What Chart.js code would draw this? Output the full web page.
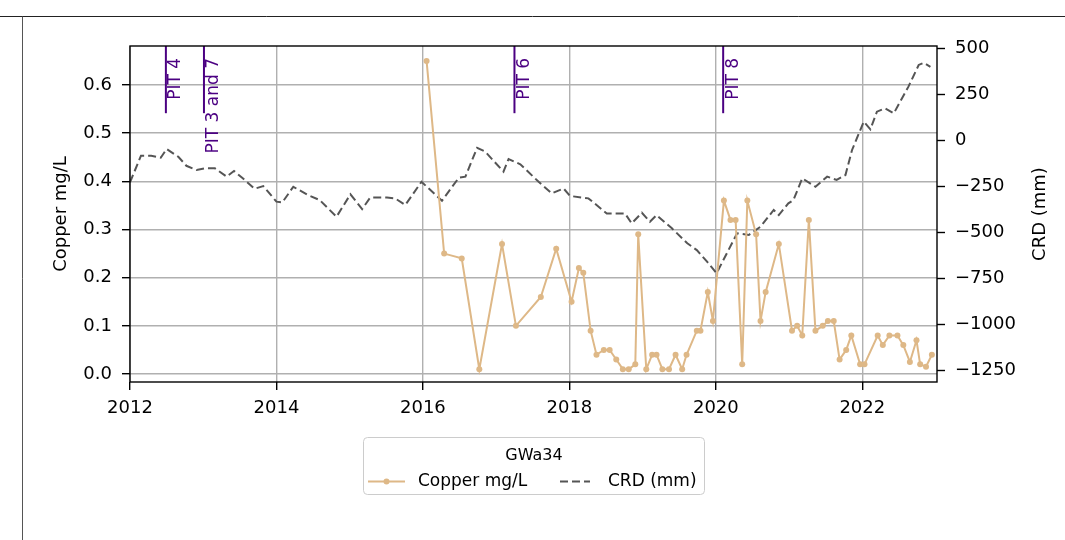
<!DOCTYPE html>
<html>
<head>
<meta charset="utf-8">
<script src="https://cdn.jsdelivr.net/npm/chart.js@4.4.1/dist/chart.umd.min.js"></script>
<style>
  html, body { margin: 0; padding: 0; background: #fff; }
  canvas { display: block; }
</style>
</head>
<body>
<canvas id="chart" width="1065" height="540"></canvas>
<script>
// sample dates as decimal years
const copperDates = [
  2016.05, 2016.29, 2016.53, 2016.77, 2017.08, 2017.27, 2017.61, 2017.82,
  2018.03, 2018.13, 2018.19, 2018.29, 2018.37, 2018.47, 2018.55, 2018.64,
  2018.73, 2018.81, 2018.90, 2018.94, 2019.05, 2019.13, 2019.19, 2019.27,
  2019.36, 2019.45, 2019.54, 2019.60, 2019.74, 2019.79, 2019.89, 2019.96,
  2020.11, 2020.20, 2020.27, 2020.36, 2020.43, 2020.55, 2020.61, 2020.68,
  2020.86, 2021.04, 2021.11, 2021.18, 2021.27, 2021.36, 2021.46, 2021.53,
  2021.61, 2021.69, 2021.78, 2021.85, 2021.97, 2022.03, 2022.21, 2022.28,
  2022.37, 2022.48, 2022.56, 2022.65, 2022.74, 2022.79, 2022.87, 2022.95
];
const copperValues = [
  0.65, 0.25, 0.24, 0.01, 0.27, 0.10, 0.16, 0.26,
  0.15, 0.22, 0.21, 0.09, 0.04, 0.05, 0.05, 0.03,
  0.01, 0.01, 0.02, 0.29, 0.01, 0.04, 0.04, 0.01,
  0.01, 0.04, 0.01, 0.04, 0.09, 0.09, 0.17, 0.11,
  0.36, 0.32, 0.32, 0.02, 0.36, 0.29, 0.11, 0.17,
  0.27, 0.09, 0.10, 0.08, 0.32, 0.09, 0.10, 0.11,
  0.11, 0.03, 0.05, 0.08, 0.02, 0.02, 0.08, 0.06,
  0.08, 0.08, 0.06, 0.025, 0.07, 0.02, 0.015, 0.04
];

// cumulative rainfall deviation
const crdDates = [
  2012.00, 2012.15, 2012.29, 2012.42, 2012.50, 2012.66, 2012.77, 2012.91,
  2013.02, 2013.16, 2013.32, 2013.42, 2013.54, 2013.70, 2013.82, 2014.00,
  2014.08, 2014.23, 2014.43, 2014.59, 2014.82, 2015.01, 2015.17, 2015.28,
  2015.51, 2015.62, 2015.76, 2015.98, 2016.26, 2016.49, 2016.58, 2016.74,
  2016.85, 2017.10, 2017.17, 2017.33, 2017.58, 2017.76, 2017.92, 2018.01,
  2018.26, 2018.51, 2018.76, 2018.85, 2018.99, 2019.10, 2019.19, 2019.40,
  2019.61, 2019.74, 2019.88, 2020.01, 2020.29, 2020.45, 2020.61, 2020.79,
  2020.86, 2020.99, 2021.06, 2021.18, 2021.36, 2021.52, 2021.65, 2021.77,
  2021.86, 2022.02, 2022.11, 2022.20, 2022.31, 2022.43, 2022.63, 2022.77,
  2022.84, 2022.93
];
const crdValues = [
  -230, -85, -85, -96, -49, -91, -140, -163,
  -154, -154, -199, -168, -208, -265, -250, -335,
  -339, -254, -299, -326, -417, -295, -375, -313,
  -313, -317, -353, -227, -330, -205, -199, -42,
  -63, -172, -103, -132, -227, -290, -263, -304,
  -317, -399, -399, -453, -395, -444, -408, -480,
  -561, -598, -661, -724, -507, -516, -471, -380,
  -408, -344, -326, -208, -254, -199, -217, -190,
  -54, 100, 58, 154, 172, 145, 290, 408,
  420, 398
];

const pitLabels = ['PIT 4', 'PIT 3 and 7', 'PIT 6', 'PIT 8'];
const pitDates = [2012.49, 2013.01, 2017.25, 2020.10];

const legendTitle = 'GWa34';
const copperLabel = 'Copper mg/L';
const crdLabel = 'CRD (mm)';

const FONT = '"DejaVu Sans", "Liberation Sans", sans-serif';
const COPPER = '#deb887';
const CRD = '#555555';
const PIT = '#4b0082';
const GRID = '#b0b0b0';

const extras = {
  id: 'extras',
  afterDraw(chart) {
    const ctx = chart.ctx;
    const a = chart.chartArea;
    const x = chart.scales.x;
    ctx.save();

    // page frame lines
    ctx.lineWidth = 1;
    ctx.strokeStyle = '#222';
    ctx.beginPath(); ctx.moveTo(0, 16.5); ctx.lineTo(1065, 16.5); ctx.stroke();
    ctx.strokeStyle = '#555';
    ctx.beginPath(); ctx.moveTo(22.5, 16.5); ctx.lineTo(22.5, 540); ctx.stroke();

    // pit markers
    pitDates.forEach((d, i) => {
      const px = x.getPixelForValue(d);
      ctx.strokeStyle = PIT;
      ctx.lineWidth = 2;
      ctx.beginPath();
      ctx.moveTo(px, a.top);
      ctx.lineTo(px, a.top + (a.bottom - a.top) * 0.2);
      ctx.stroke();
      ctx.save();
      ctx.translate(px + 1.5, a.top + 12);
      ctx.rotate(-Math.PI / 2);
      ctx.fillStyle = PIT;
      ctx.font = '17px ' + FONT;
      ctx.textAlign = 'right';
      ctx.textBaseline = 'top';
      ctx.fillText(pitLabels[i], 0, 0);
      ctx.restore();
    });

    // axes box
    ctx.strokeStyle = '#000';
    ctx.lineWidth = 1.4;
    ctx.strokeRect(a.left, a.top, a.right - a.left, a.bottom - a.top);

    // right axis title, reading upward like the left one
    ctx.save();
    ctx.translate(1040, (a.top + a.bottom) / 2);
    ctx.rotate(-Math.PI / 2);
    ctx.fillStyle = '#000';
    ctx.font = '18px ' + FONT;
    ctx.textAlign = 'center';
    ctx.textBaseline = 'middle';
    ctx.fillText(crdLabel, 0, 0);
    ctx.restore();

    // legend
    const lx = 363.5, ly = 437.5, lw = 341, lh = 57;
    ctx.fillStyle = 'rgba(255,255,255,0.8)';
    ctx.strokeStyle = '#cccccc';
    ctx.lineWidth = 1;
    ctx.beginPath();
    ctx.roundRect(lx, ly, lw, lh, 4);
    ctx.fill();
    ctx.stroke();

    ctx.fillStyle = '#000';
    ctx.textBaseline = 'middle';
    ctx.textAlign = 'center';
    ctx.font = '16px ' + FONT;
    ctx.fillText(legendTitle, 534, 456);

    const ey = 481.5;
    ctx.strokeStyle = COPPER;
    ctx.lineWidth = 2;
    ctx.beginPath(); ctx.moveTo(368, ey); ctx.lineTo(405, ey); ctx.stroke();
    ctx.fillStyle = COPPER;
    ctx.beginPath(); ctx.arc(386.5, ey, 3, 0, Math.PI * 2); ctx.fill();

    ctx.strokeStyle = CRD;
    ctx.setLineDash([8, 4]);
    ctx.beginPath(); ctx.moveTo(560, ey); ctx.lineTo(590, ey); ctx.stroke();
    ctx.setLineDash([]);

    ctx.fillStyle = '#000';
    ctx.textAlign = 'left';
    ctx.font = '17px ' + FONT;
    ctx.fillText(copperLabel, 418, ey);
    ctx.fillText(crdLabel, 608, ey);

    ctx.restore();
  }
};

new Chart(document.getElementById('chart'), {
  type: 'line',
  data: {
    datasets: [
      {
        label: copperLabel,
        data: copperDates.map((d, i) => ({ x: d, y: copperValues[i] })),
        yAxisID: 'y',
        borderColor: COPPER,
        backgroundColor: COPPER,
        borderWidth: 2,
        pointRadius: 3,
        pointBorderWidth: 0,
        pointBackgroundColor: COPPER,
        tension: 0,
        order: 0
      },
      {
        label: crdLabel,
        data: crdDates.map((d, i) => ({ x: d, y: crdValues[i] })),
        yAxisID: 'y1',
        borderColor: CRD,
        borderWidth: 2,
        borderDash: [8, 4],
        pointRadius: 0,
        tension: 0,
        order: 1
      }
    ]
  },
  options: {
    responsive: false,
    devicePixelRatio: 1,
    animation: false,
    layout: { padding: { left: 51, right: 14, top: 46, bottom: 0 } },
    plugins: {
      legend: { display: false },
      tooltip: { enabled: false }
    },
    scales: {
      x: {
        type: 'linear',
        min: 2012,
        max: 2023.02,
        afterFit(s) { s.height = 158; },
        border: { display: false },
        grid: { color: GRID, lineWidth: 1.4, tickColor: '#000', tickLength: 8, tickWidth: 1.4 },
        ticks: {
          stepSize: 2,
          includeBounds: false,
          padding: 8,
          color: '#000',
          font: { family: FONT, size: 18 },
          callback: v => String(Math.round(v))
        }
      },
      y: {
        position: 'left',
        min: -0.0166,
        max: 0.681,
        afterFit(s) { s.width = 79; },
        border: { display: false },
        grid: { color: GRID, lineWidth: 1.4, tickColor: '#000', tickLength: 8, tickWidth: 1.4 },
        title: {
          display: true,
          text: copperLabel,
          color: '#000',
          padding: 0,
          font: { family: FONT, size: 18 }
        },
        ticks: {
          stepSize: 0.1,
          includeBounds: false,
          padding: 10,
          color: '#000',
          font: { family: FONT, size: 18 },
          callback: v => v.toFixed(1)
        }
      },
      y1: {
        position: 'right',
        min: -1315,
        max: 511,
        afterFit(s) { s.width = 114; },
        border: { display: false },
        grid: { drawOnChartArea: false, tickColor: '#000', tickLength: 8, tickWidth: 1.4 },
        ticks: {
          stepSize: 250,
          includeBounds: false,
          padding: 10,
          color: '#000',
          font: { family: FONT, size: 18 },
          callback: v => (v < 0 ? '\u2212' + Math.abs(v) : String(v))
        }
      }
    }
  },
  plugins: [extras]
});
</script>
</body>
</html>
